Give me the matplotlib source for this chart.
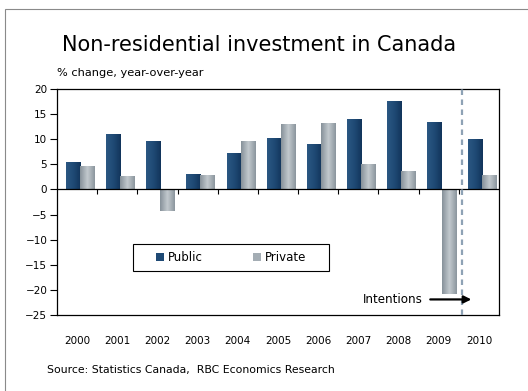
import numpy as np
import matplotlib.pyplot as plt
from matplotlib.patches import Rectangle, Patch
from matplotlib.colors import LinearSegmentedColormap

years = ['2000', '2001', '2002', '2003', '2004', '2005', '2006', '2007', '2008', '2009', '2010']
public = [5.4, 11.0, 9.6, 3.1, 7.2, 10.2, 9.0, 14.1, 17.6, 13.5, 10.0]
private = [4.7, 2.7, -4.3, 2.9, 9.6, 13.0, 13.2, 5.1, 3.7, -20.8, 2.9]
yticks = [20, 15, 10, 5, 0, -5, -10, -15, -20, -25]

pub_cmap = LinearSegmentedColormap.from_list('pub', ['#2b5782', '#1f4a75', '#12345b'])
pri_cmap = LinearSegmentedColormap.from_list('pri', ['#86919a', '#c2c9ce', '#8c969e'])

fig = plt.figure(figsize=(5.28, 3.91), dpi=100)
fig.patch.set_facecolor('white')

# thin frame round the whole chart
fig.patches.append(Rectangle((5 / 528, -0.05), 1.2, (391 - 9) / 391 + 0.05,
                             transform=fig.transFigure, fill=False,
                             edgecolor='#8a8a8a', linewidth=0.8))

ax = fig.add_axes([57 / 528, (391 - 315) / 391, 442 / 528, 226 / 391])

x = np.arange(len(years))
w = 0.35
shift = 0.07


def shaded_bars(xpos, vals, cmap):
    bars = ax.bar(xpos, vals, w, color='none', edgecolor='none')
    grad = np.linspace(0, 1, 64).reshape(1, -1)
    for b in bars:
        x0, y0 = b.get_x(), b.get_y()
        x1, y1 = x0 + b.get_width(), y0 + b.get_height()
        im = ax.imshow(grad, cmap=cmap, aspect='auto', extent=[x0, x1, min(y0, y1), max(y0, y1)],
                       zorder=2)
        im.set_clip_path(b)
    return bars


shaded_bars(x - w / 2 + shift, public, pub_cmap)
shaded_bars(x + w / 2 + shift, private, pri_cmap)

ax.set_xlim(-0.5, 10.5)
ax.set_ylim(-25, 20)

# zero line with small category ticks hanging below it
ax.axhline(0, color='black', linewidth=0.9, zorder=3)
ax.vlines(x[:-1] + 0.5, -0.9, 0, color='black', linewidth=0.8, zorder=3)

# start of the intentions survey
ax.axvline(9.57, color='#8ea2b5', linewidth=1.6, linestyle=(0, (2.5, 2)), zorder=4)

for s in ax.spines.values():
    s.set_linewidth(0.9)
    s.set_color('black')

ax.set_yticks(yticks)
ax.tick_params(axis='y', direction='out', length=5, width=0.8, pad=2, labelsize=7.5)
ax.set_xticks(x)
ax.set_xticklabels(years)
ax.tick_params(axis='x', length=0, pad=15, labelsize=7.5)

ax.annotate('', xy=(9.88, -21.9), xytext=(8.72, -21.9),
            arrowprops=dict(arrowstyle='-|>', color='black', lw=1.6, mutation_scale=11),
            zorder=5)
ax.text(8.61, -21.9, 'Intentions', ha='right', va='center', fontsize=8.6)

# legend: entries centred in a plain square box
handles = [Patch(facecolor='#1f4a75', label='Public'),
           Patch(facecolor='#a4adb4', label='Private')]
lx0, lx1 = (133 - 57) / 442, (329 - 57) / 442
ly0, ly1 = (315 - 271) / 226, (315 - 244) / 226
ax.add_patch(Rectangle((lx0, ly0), lx1 - lx0, ly1 - ly0, transform=ax.transAxes,
                       facecolor='white', edgecolor='black', linewidth=0.8, zorder=5))
leg = ax.legend(handles=handles, ncol=2, loc='center',
                bbox_to_anchor=((lx0 + lx1) / 2, (ly0 + ly1) / 2),
                frameon=False, fontsize=8.5,
                handlelength=0.7, handleheight=0.7, handletextpad=0.35,
                columnspacing=4.2, borderpad=0, borderaxespad=0)
leg.set_zorder(6)

fig.text(259 / 528, 1 - 45 / 391, 'Non-residential investment in Canada',
         ha='center', va='center', fontsize=15)
fig.text(57 / 528, 1 - 73 / 391, '% change, year-over-year', ha='left', va='center', fontsize=8.2)
fig.text(47 / 528, 1 - 370 / 391, 'Source: Statistics Canada,  RBC Economics Research',
         ha='left', va='center', fontsize=7.8)

fig.savefig('out.png', dpi=100)
